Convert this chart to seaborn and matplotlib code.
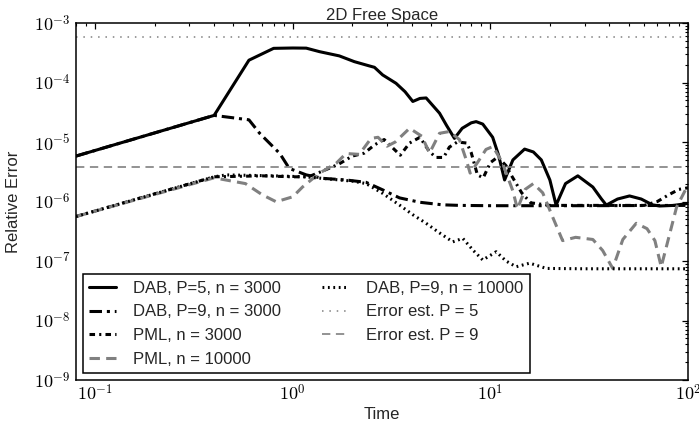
import numpy as np
import pandas as pd
import matplotlib
matplotlib.use("Agg")
import matplotlib.pyplot as plt
import matplotlib.ticker as mticker
import seaborn as sns

# ---------------- data ----------------
title = "2D Free Space"
xlabel = "Time"
ylabel = "Relative Error"

dab5_x = [0.08, 0.4, 0.6, 0.8, 1.0, 1.17, 1.365, 1.72, 2.05, 2.44, 2.59, 2.85, 3.33, 3.7, 4.05, 4.4, 4.73,
          5.53, 6.0, 6.58, 7.2, 8.0, 8.47, 9.15, 10.27, 11.0, 11.8, 13.0, 14.9, 16.5, 18.1, 20.0, 21.5,
          24.0, 27.7, 33.0, 36.5, 38.6, 44.0, 50.6, 58.0, 66.0, 71.7, 85.0, 100.0]
dab5_y = [5.8e-6, 2.8e-5, 2.37e-4, 3.75e-4, 3.8e-4, 3.78e-4, 3.3e-4, 2.8e-4, 2.24e-4, 1.9e-4, 1.8e-4,
          1.34e-4, 9.7e-5, 7.0e-5, 4.8e-5, 5.4e-5, 5.5e-5, 3.05e-5, 1.9e-5, 1.15e-5, 1.7e-5, 2.1e-5,
          2.2e-5, 2.0e-5, 1.2e-5, 6.0e-6, 2.3e-6, 5.0e-6, 7.6e-6, 6.8e-6, 5.0e-6, 2.3e-6, 8.7e-7,
          2.0e-6, 2.7e-6, 1.75e-6, 1.1e-6, 8.7e-7, 1.1e-6, 1.24e-6, 1.1e-6, 8.8e-7, 8.4e-7, 8.6e-7, 9.3e-7]

dab9_x = [0.08, 0.4, 0.6, 0.68, 0.86, 0.96, 1.17, 1.42, 1.86, 2.35, 2.85, 3.47, 4.4, 5.7, 7.0, 10.0, 30.0, 100.0]
dab9_y = [5.8e-6, 2.8e-5, 2.36e-5, 1.4e-5, 6.4e-6, 3.6e-6, 2.8e-6, 2.45e-6, 2.3e-6, 2.1e-6, 1.57e-6,
          1.15e-6, 9.7e-7, 8.8e-7, 8.6e-7, 8.5e-7, 8.5e-7, 8.6e-7]

pml3_x = [0.08, 0.4, 0.7, 1.0, 1.2, 1.4, 1.7, 2.0, 2.3, 2.6, 2.9, 3.2, 3.5, 3.9, 4.4, 4.9, 5.3, 5.8,
          6.2, 6.8, 7.6, 8.0, 8.6, 9.2, 10.0, 10.9, 12.0, 12.5, 14.4, 16.0, 20.0, 60.0, 70.0, 80.0, 90.0, 100.0]
pml3_y = [5.6e-7, 2.6e-6, 2.7e-6, 2.6e-6, 2.6e-6, 3.2e-6, 4.2e-6, 5.8e-6, 6.5e-6, 9.0e-6, 1.1e-5,
          8.0e-6, 6.0e-6, 9.6e-6, 1.2e-5, 7.0e-6, 5.5e-6, 5.5e-6, 8.2e-6, 1.0e-5, 9.6e-6, 6.6e-6,
          2.8e-6, 2.5e-6, 4.5e-6, 5.6e-6, 4.0e-6, 3.1e-6, 1.4e-6, 9.5e-7, 8.6e-7, 8.6e-7, 1.0e-6,
          1.3e-6, 1.6e-6, 1.7e-6]

pml10_x = [0.08, 0.4, 0.576, 0.7, 0.824, 1.0, 1.12, 1.36, 1.66, 1.86, 2.17, 2.49, 2.7, 3.0, 3.3, 3.9,
           4.5, 4.92, 5.53, 6.2, 6.97, 7.55, 7.9, 8.6, 9.5, 10.3, 11.5, 13.0, 13.7, 15.0, 16.5, 18.4,
           20.6, 23.2, 27.0, 33.0, 37.0, 41.6, 46.8, 54.7, 62.0, 68.0, 73.2, 87.5, 100.0]
pml10_y = [5.6e-7, 2.5e-6, 2.0e-6, 1.3e-6, 9.9e-7, 1.2e-6, 1.75e-6, 2.97e-6, 4.4e-6, 6.4e-6, 6.2e-6,
           1.15e-5, 1.2e-5, 8.5e-6, 1.0e-5, 1.7e-5, 1.25e-5, 6.5e-6, 1.4e-5, 1.5e-5, 1.1e-5, 5.0e-6,
           3.0e-6, 4.5e-6, 7.5e-6, 8.4e-6, 4.5e-6, 1.5e-6, 7.5e-7, 1.6e-6, 2.0e-6, 1.4e-6, 5.6e-7,
           2.2e-7, 2.5e-7, 2.3e-7, 1.5e-7, 7.5e-8, 2.3e-7, 4.3e-7, 3.5e-7, 2.2e-7, 8.0e-8, 8.0e-7, 1.9e-6]

dab9n10_x = [0.08, 0.4, 0.46, 0.8, 1.16, 1.5, 2.0, 2.35, 2.85, 3.47, 4.05, 4.73, 5.5, 6.45, 7.25, 8.2,
             9.15, 10.7, 12.0, 13.5, 15.8, 19.2, 30.0, 50.0, 100.0]
dab9n10_y = [5.6e-7, 2.6e-6, 2.8e-6, 2.7e-6, 2.6e-6, 2.4e-6, 2.2e-6, 2.0e-6, 1.37e-6, 8.7e-7, 6.0e-7,
             4.3e-7, 3.0e-7, 2.1e-7, 2.4e-7, 1.5e-7, 1.04e-7, 1.43e-7, 1.0e-7, 8.0e-8, 9.2e-8, 7.5e-8,
             7.4e-8, 7.4e-8, 7.4e-8]

err_p5 = 5.8e-4
err_p9 = 3.8e-6

labels = ["DAB, P=5, n = 3000", "DAB, P=9, n = 3000", "PML, n = 3000", "PML, n = 10000",
          "DAB, P=9, n = 10000", "Error est. P = 5", "Error est. P = 9"]

xlim = (0.08, 100)
ylim = (1e-9, 1e-3)

# ---------------- style ----------------
sns.set_style("white")
plt.rcParams.update({
    "font.family": ["Liberation Sans", "DejaVu Sans"],
    "mathtext.fontset": "cm",
    "lines.scale_dashes": False,
    "xtick.direction": "in", "ytick.direction": "in",
    "xtick.top": True, "ytick.right": True,
    "xtick.major.size": 4.5, "ytick.major.size": 4.5,
    "xtick.minor.size": 2.2, "ytick.minor.size": 2.2,
    "xtick.major.width": 0.9, "ytick.major.width": 0.9,
    "xtick.minor.width": 0.8, "ytick.minor.width": 0.8,
    "xtick.minor.visible": True, "ytick.minor.visible": True,
    "xtick.color": "black", "ytick.color": "black",
    "axes.edgecolor": "black", "axes.linewidth": 1.1,
})

fig = plt.figure(figsize=(6.99, 4.28), dpi=100)
ax = fig.add_axes([76 / 699, 1 - 380 / 428, 612 / 699, 357 / 428])
ax.set_xscale("log")
ax.set_yscale("log")

gray = "#808080"
thick = 2.2

sns.lineplot(x=dab5_x, y=dab5_y, ax=ax, color="black", lw=thick, label=labels[0],
             linestyle="-", sort=False, estimator=None)
sns.lineplot(x=dab9_x, y=dab9_y, ax=ax, color="black", lw=thick, label=labels[1],
             linestyle=(0, (9, 3.5, 2.2, 3.5)), sort=False, estimator=None)
sns.lineplot(x=pml3_x, y=pml3_y, ax=ax, color="black", lw=thick, label=labels[2],
             linestyle=(0, (4, 3, 1.5, 3)), sort=False, estimator=None)
sns.lineplot(x=pml10_x, y=pml10_y, ax=ax, color=gray, lw=thick, label=labels[3],
             linestyle=(0, (7.5, 4.5)), sort=False, estimator=None)
sns.lineplot(x=dab9n10_x, y=dab9n10_y, ax=ax, color="black", lw=thick, label=labels[4],
             linestyle=(0, (1.3, 2.6)), sort=False, estimator=None)
ax.axhline(err_p5, color=gray, lw=1.1, linestyle=(0, (1.1, 4.2)), label=labels[5])
ax.axhline(err_p9, color=gray, lw=1.2, linestyle=(0, (6, 4)), label=labels[6])

ax.set_xlim(*xlim)
ax.set_ylim(*ylim)

def pow10(v, pos):
    e = int(round(np.log10(v)))
    return r"$10^{%d}$" % e

ax.xaxis.set_major_locator(mticker.LogLocator(base=10, numticks=12))
ax.yaxis.set_major_locator(mticker.LogLocator(base=10, numticks=12))
ax.xaxis.set_major_formatter(mticker.FuncFormatter(pow10))
ax.yaxis.set_major_formatter(mticker.FuncFormatter(pow10))
ax.xaxis.set_minor_formatter(mticker.NullFormatter())
ax.yaxis.set_minor_formatter(mticker.NullFormatter())

ax.set_title(title, fontsize=12, pad=2)
ax.set_xlabel(xlabel, fontsize=12, labelpad=2)
ax.set_ylabel(ylabel, fontsize=12, labelpad=9)
ax.tick_params(axis="x", which="major", labelsize=13, pad=3)
ax.tick_params(axis="y", which="major", labelsize=13, pad=4)

handles, labs = ax.get_legend_handles_labels()
leg = ax.legend(handles, labs, loc="lower left", ncol=2, fontsize=12, frameon=True,
                fancybox=False, edgecolor="black", framealpha=1, handlelength=1.6,
                handletextpad=1.0, columnspacing=2.5, labelspacing=0.52,
                borderpad=0.4, borderaxespad=0.4)
leg.get_frame().set_linewidth(1.1)

fig.savefig("out.png", dpi=100)
